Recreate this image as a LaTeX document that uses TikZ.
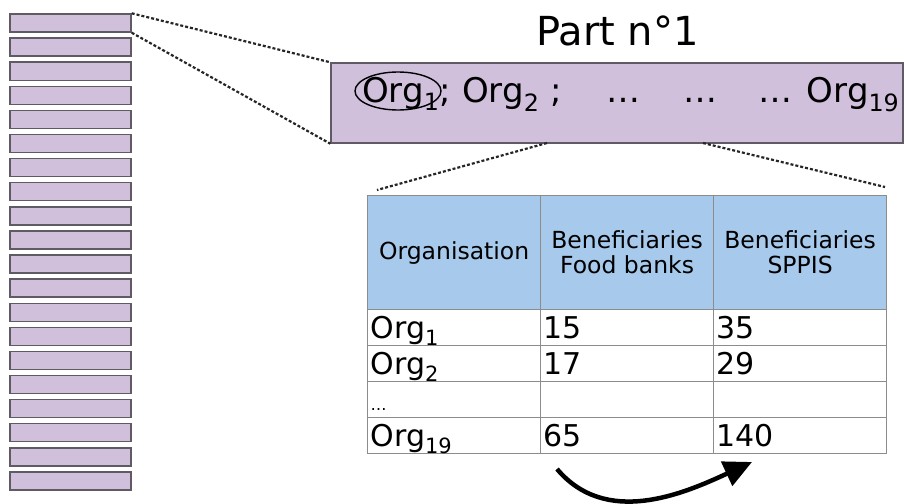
\documentclass[tikz,border=0pt]{standalone}
\usepackage{fontspec}
\setmainfont{DejaVu Sans}
\usetikzlibrary{arrows.meta}
\usetikzlibrary{shapes}

\definecolor{barPurple}{RGB}{209,192,220}
\definecolor{barEdge}{RGB}{95,90,100}
\definecolor{headBlue}{RGB}{166,201,236}
\definecolor{gridGray}{RGB}{140,140,140}

\begin{document}
\begin{tikzpicture}[x = 1pt, y = -1pt]
	\tikzstyle{barStyle} = [shape = rectangle, minimum width = 121pt, minimum height = 18pt, inner sep = 0pt, fill = barPurple, draw = barEdge, line width = 1.4pt]
	\tikzstyle{bigBarStyle} = [shape = rectangle, minimum width = 572pt, minimum height = 80pt, inner sep = 0pt, fill = barPurple, draw = barEdge, line width = 1.4pt]
	\tikzstyle{zoomLine} = [line width = 2.2pt, dash pattern = on 3pt off 2pt, black!85]
	\tikzstyle{bigText} = [inner sep = 0pt, anchor = base west, font = \fontsize{34pt}{36pt}\selectfont]
	\tikzstyle{headStyle} = [shape = rectangle, anchor = north west, minimum width = 173pt, minimum height = 114pt, inner sep = 0pt, fill = headBlue, draw = gridGray, line width = 1.2pt, align = center, font = \fontsize{23.5pt}{25pt}\selectfont]
	\tikzstyle{cellStyle} = [shape = rectangle, anchor = north west, text width = 167pt, inner xsep = 3pt, inner ysep = 1pt, text height = 28pt, text depth = 6pt, align = left, draw = gridGray, line width = 1.2pt, font = \fontsize{30pt}{31pt}\selectfont]
	\useasboundingbox (0,0) rectangle (904,503);
	% stack of parts
	\node[barStyle] (b1) at (70.5, 23.0) {};
	\node[barStyle] (b2) at (70.5, 47.1) {};
	\node[barStyle] (b3) at (70.5, 71.2) {};
	\node[barStyle] (b4) at (70.5, 95.3) {};
	\node[barStyle] (b5) at (70.5, 119.4) {};
	\node[barStyle] (b6) at (70.5, 143.5) {};
	\node[barStyle] (b7) at (70.5, 167.6) {};
	\node[barStyle] (b8) at (70.5, 191.7) {};
	\node[barStyle] (b9) at (70.5, 215.8) {};
	\node[barStyle] (b10) at (70.5, 239.9) {};
	\node[barStyle] (b11) at (70.5, 264.0) {};
	\node[barStyle] (b12) at (70.5, 288.1) {};
	\node[barStyle] (b13) at (70.5, 312.2) {};
	\node[barStyle] (b14) at (70.5, 336.3) {};
	\node[barStyle] (b15) at (70.5, 360.4) {};
	\node[barStyle] (b16) at (70.5, 384.5) {};
	\node[barStyle] (b17) at (70.5, 408.6) {};
	\node[barStyle] (b18) at (70.5, 432.7) {};
	\node[barStyle] (b19) at (70.5, 456.8) {};
	\node[barStyle] (b20) at (70.5, 480.9) {};
	% zoom on part 1
	\node[anchor = base, font = \fontsize{40pt}{44pt}\selectfont] (title) at (617.5, 46) {Part n°1};
	\node[bigBarStyle] (part) at (617, 103) {};
	\node[bigText] (org1) at (362, 102) {Org\textsubscript{1}};
	\node[bigText] (orgs) at (org1.base east) {; Org\textsubscript{2} ;\hspace{45pt}…\hspace{43pt}…\hspace{41pt}…\hspace{14pt}Org\textsubscript{19}};
	\draw[line width = 1.4pt] (398, 91) ellipse (43 and 19);
	\draw[zoomLine] (b1.north east) -- (part.north west);
	\draw[zoomLine] (b1.south east) -- (part.south west);
	% zoom on the table
	\coordinate (zl) at (547, 143);
	\coordinate (zr) at (703, 143);
	\coordinate (tl) at (377, 190);
	\coordinate (tr) at (885, 187);
	\draw[zoomLine] (zl) -- (tl);
	\draw[zoomLine] (zr) -- (tr);
	\node[headStyle] (h1) at (367, 195) {Organisation};
	\node[headStyle] (h2) at (540, 195) {Beneficiaries\\Food banks};
	\node[headStyle] (h3) at (713, 195) {Beneficiaries\\SPPIS};
	\node[cellStyle] (c11) at (367, 309) {Org\textsubscript{1}};
	\node[cellStyle] (c12) at (540, 309) {15};
	\node[cellStyle] (c13) at (713, 309) {35};
	\node[cellStyle] (c21) at (367, 345) {Org\textsubscript{2}};
	\node[cellStyle] (c22) at (540, 345) {17};
	\node[cellStyle] (c23) at (713, 345) {29};
	\node[cellStyle, font = \fontsize{16pt}{18pt}\selectfont] (c31) at (367, 381) {…};
	\node[cellStyle] (c32) at (540, 381) {};
	\node[cellStyle] (c33) at (713, 381) {};
	\node[cellStyle] (c41) at (367, 417) {Org\textsubscript{19}};
	\node[cellStyle] (c42) at (540, 417) {65};
	\node[cellStyle] (c43) at (713, 417) {140};
	% arrow under the table
	\coordinate (arrowStart) at (557, 469);
	\coordinate (arrowEnd) at (752, 462);
	\draw[line width = 4.5pt, -{Triangle[length = 28pt, width = 26pt]}] (arrowStart) .. controls (606, 527) and (683, 494) .. (arrowEnd);
\end{tikzpicture}
\end{document}
